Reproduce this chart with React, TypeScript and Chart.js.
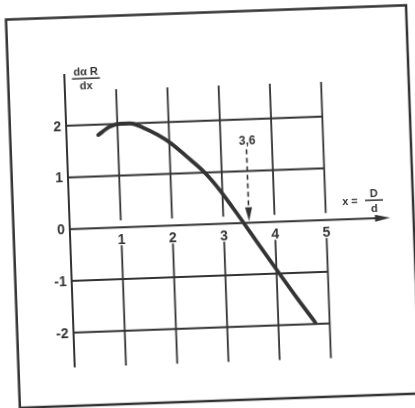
import React, { useEffect, useRef } from 'react';
import { Chart, registerables } from 'chart.js';

Chart.register(...registerables);

// ---- data ----
const curveX = [0.62, 0.85, 1.05, 1.25, 1.5, 1.78, 2.03, 2.32, 2.66, 2.93, 3.2, 3.46, 3.7, 4.04, 4.39, 4.72];
const curveY = [1.8, 1.95, 2.0, 2.0, 1.91, 1.76, 1.59, 1.33, 1.01, 0.68, 0.29, -0.1, -0.47, -0.98, -1.5, -1.97];

const xTicks = [1, 2, 3, 4, 5];
const xTickLabels = ['1', '2', '3', '4', '5'];
const yTicks = [2, 1, 0, -1, -2];
const yTickLabels = ['2', '1', '0', '-1', '-2'];

const markerX = [3.5];
const markerLabel = ['3,6'];

const yTitleTop = 'dα R';
const yTitleBottom = 'dx';
const xTitleLeft = 'x =';
const xTitleTop = 'D';
const xTitleBottom = 'd';

const INK = '#333333';

const figurePlugin = {
  id: 'figure',
  beforeDatasetsDraw(chart: any) {
    const { ctx } = chart;
    const xs = chart.scales.x;
    const ys = chart.scales.y;
    const px = (v: number) => xs.getPixelForValue(v);
    const py = (v: number) => ys.getPixelForValue(v);
    const gridTop = 2.67;
    const gridBottom = -2.67;
    const axisTop = 3.0;
    const axisRight = 6.25;
    const y0 = py(0);
    const x0 = px(0);

    ctx.save();
    ctx.lineCap = 'butt';
    ctx.strokeStyle = INK;
    ctx.fillStyle = INK;

    // outer frame
    ctx.lineWidth = 2.5;
    ctx.strokeRect(12.7, 12.5, 400.3, 388.5);

    // horizontal grid lines
    ctx.lineWidth = 1.8;
    yTicks.forEach((t) => {
      if (t === 0) return;
      ctx.beginPath();
      ctx.moveTo(x0, py(t));
      ctx.lineTo(px(5), py(t));
      ctx.stroke();
    });

    // vertical grid lines (broken around the tick labels)
    xTicks.forEach((t) => {
      const x = px(t);
      ctx.beginPath();
      ctx.moveTo(x, py(gridTop));
      ctx.lineTo(x, y0 - 7);
      ctx.moveTo(x, y0 + 18);
      ctx.lineTo(x, py(gridBottom));
      ctx.stroke();
    });

    // y axis
    ctx.lineWidth = 2;
    ctx.beginPath();
    ctx.moveTo(x0, py(axisTop));
    ctx.lineTo(x0, py(gridBottom));
    ctx.stroke();

    // x axis with arrow
    const xr = px(axisRight);
    ctx.beginPath();
    ctx.moveTo(x0, y0);
    ctx.lineTo(xr - 10, y0);
    ctx.stroke();
    ctx.beginPath();
    ctx.moveTo(xr, y0);
    ctx.lineTo(xr - 15, y0 - 3.5);
    ctx.lineTo(xr - 15, y0 + 3.5);
    ctx.closePath();
    ctx.fill();

    // tick labels
    ctx.font = 'bold 14px "Liberation Sans", Arial, sans-serif';
    ctx.textBaseline = 'middle';
    ctx.textAlign = 'right';
    yTicks.forEach((t, i) => {
      ctx.fillText(yTickLabels[i], x0 - 5, py(t) + 1);
    });
    ctx.textAlign = 'center';
    xTicks.forEach((t, i) => {
      ctx.fillText(xTickLabels[i], px(t), y0 + 13);
    });

    // y-axis title as a fraction
    ctx.font = 'bold 11px "Liberation Sans", Arial, sans-serif';
    const tx = px(0.42);
    ctx.fillText(yTitleTop, tx, py(3.02));
    ctx.fillText(yTitleBottom, tx, py(2.75));
    ctx.lineWidth = 1.5;
    ctx.beginPath();
    ctx.moveTo(tx - 14, py(2.9));
    ctx.lineTo(tx + 14, py(2.9));
    ctx.stroke();

    // x-axis title "x = D/d"
    ctx.font = 'bold 11px "Liberation Sans", Arial, sans-serif';
    ctx.fillText(xTitleLeft, px(5.48), py(0.33));
    const fx = px(5.95);
    ctx.fillText(xTitleTop, fx, py(0.47));
    ctx.fillText(xTitleBottom, fx, py(0.18));
    ctx.beginPath();
    ctx.moveTo(fx - 9, py(0.35));
    ctx.lineTo(fx + 9, py(0.35));
    ctx.stroke();

    // dashed marker arrow
    markerX.forEach((m, i) => {
      const mx = px(m);
      const tip = py(0.03);
      ctx.font = 'bold 12px "Liberation Sans", Arial, sans-serif';
      ctx.fillText(markerLabel[i], mx + 1, py(1.58));
      ctx.lineWidth = 1.6;
      ctx.setLineDash([5, 3.5]);
      ctx.beginPath();
      ctx.moveTo(mx, py(1.42));
      ctx.lineTo(mx, tip - 12);
      ctx.stroke();
      ctx.setLineDash([]);
      ctx.beginPath();
      ctx.moveTo(mx, tip);
      ctx.lineTo(mx - 3.5, tip - 14);
      ctx.lineTo(mx + 3.5, tip - 14);
      ctx.closePath();
      ctx.fill();
    });

    ctx.restore();
  },
};

export default function App() {
  const canvasRef = useRef<HTMLCanvasElement | null>(null);

  useEffect(() => {
    document.body.style.margin = '0';
    const canvas = canvasRef.current;
    if (!canvas) return;
    const points = curveX.map((x, i) => ({ x, y: curveY[i] }));
    const chart = new Chart(canvas, {
      type: 'scatter',
      data: {
        datasets: [
          {
            data: points,
            showLine: true,
            borderColor: INK,
            borderWidth: 3.8,
            pointRadius: 0,
            cubicInterpolationMode: 'monotone',
            borderCapStyle: 'round',
          } as any,
        ],
      },
      options: {
        responsive: false,
        devicePixelRatio: 1,
        animation: false,
        layout: { padding: { left: 69, right: 23, top: 69, bottom: 44 } },
        scales: {
          x: { type: 'linear', min: 0, max: 6.3, display: false },
          y: { type: 'linear', min: -2.7, max: 3.0, display: false },
        },
        plugins: {
          legend: { display: false },
          tooltip: { enabled: false },
        },
      },
      plugins: [figurePlugin],
    });
    return () => chart.destroy();
  }, []);

  return (
    <div
      style={{
        position: 'fixed',
        left: 0,
        top: 0,
        width: 415,
        height: 408,
        transform: 'rotate(-2.05deg)',
        transformOrigin: '207.5px 204px',
      }}
    >
      <canvas ref={canvasRef} width={415} height={408} style={{ display: 'block', width: 415, height: 408 }} />
    </div>
  );
}
